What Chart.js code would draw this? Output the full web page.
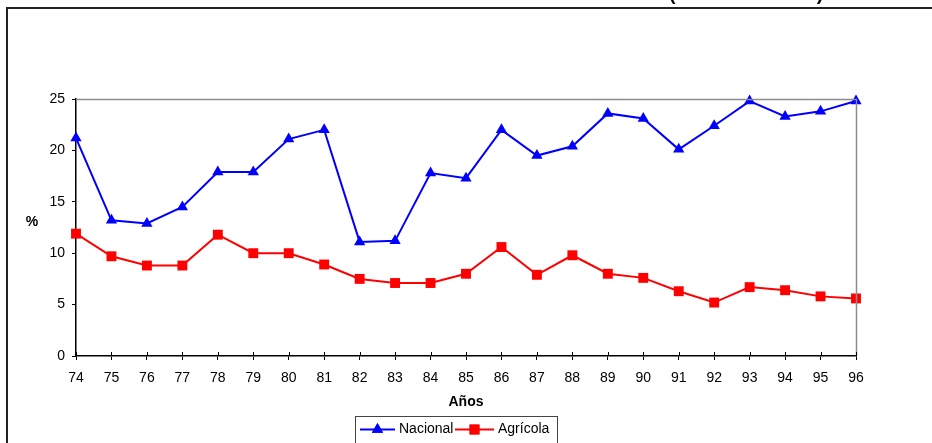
<!DOCTYPE html>
<html>
<head>
<meta charset="utf-8">
<script src="https://cdn.jsdelivr.net/npm/chart.js@4.4.0/dist/chart.umd.min.js"></script>
<style>
  html, body { margin: 0; padding: 0; background: #fff; }
  #wrap { width: 932px; height: 443px; position: relative; }
</style>
</head>
<body>
<div id="wrap"><canvas id="c" width="932" height="443"></canvas></div>
<script>
// Años 1974-1996 (dos dígitos)
const years = ['74','75','76','77','78','79','80','81','82','83','84','85','86','87','88','89','90','91','92','93','94','95','96'];

// Serie nacional (%)
const nacional = [21.2, 13.2, 12.9, 14.5, 17.9, 17.9, 21.1, 22.0, 11.1, 11.2, 17.8, 17.3, 22.0, 19.5, 20.4, 23.6, 23.1, 20.1, 22.4, 24.8, 23.3, 23.8, 24.8];

// Serie agrícola (%)
const agricola = [11.9, 9.7, 8.8, 8.8, 11.8, 10.0, 10.0, 8.9, 7.5, 7.1, 7.1, 8.0, 10.6, 7.9, 9.8, 8.0, 7.6, 6.3, 5.2, 6.7, 6.4, 5.8, 5.6];

// Marcas del eje Y
const yTicks = [0, 5, 10, 15, 20, 25];

const seriesNames = ['Nacional', 'Agrícola'];
const FONT = '"Liberation Sans", Arial, sans-serif';

// Elementos fijos: marco, título, bordes del área, rótulos de ejes y leyenda
const decor = {
  id: 'decor',
  beforeDraw(chart) {
    const ctx = chart.ctx;
    ctx.save();
    ctx.fillStyle = '#fff';
    ctx.fillRect(0, 0, chart.width, chart.height);
    ctx.restore();
  },
  afterDraw(chart) {
    const ctx = chart.ctx;
    const a = chart.chartArea;
    const x = chart.scales.x;
    ctx.save();

    // marco exterior
    ctx.strokeStyle = '#222';
    ctx.lineWidth = 2;
    ctx.beginPath();
    ctx.moveTo(7, 460);
    ctx.lineTo(7, 8);
    ctx.lineTo(940, 8);
    ctx.stroke();

    // título
    ctx.fillStyle = '#000';
    ctx.font = 'bold 19px ' + FONT;
    ctx.textAlign = 'right';
    ctx.textBaseline = 'alphabetic';
    ctx.fillText('(PORCENTAJES)', 823, -0.5);

    // bordes superior y derecho del área
    ctx.strokeStyle = '#8c8c8c';
    ctx.lineWidth = 1.5;
    ctx.beginPath();
    ctx.moveTo(a.left, a.top + 0.5);
    ctx.lineTo(a.right + 0.5, a.top + 0.5);
    ctx.lineTo(a.right + 0.5, a.bottom);
    ctx.stroke();

    // marcas del eje X hacia el interior
    ctx.strokeStyle = '#000';
    ctx.lineWidth = 1;
    ctx.beginPath();
    for (let i = 0; i < years.length; i++) {
      const px = Math.round(x.getPixelForTick(i)) + 0.5;
      ctx.moveTo(px, a.bottom);
      ctx.lineTo(px, a.bottom - 4);
    }
    ctx.stroke();

    // rótulos de ejes
    ctx.fillStyle = '#000';
    ctx.font = 'bold 14px ' + FONT;
    ctx.textAlign = 'center';
    ctx.textBaseline = 'middle';
    ctx.fillText('Años', (a.left + a.right) / 2, 402);
    ctx.fillText('%', 32, 222);

    // leyenda
    ctx.strokeStyle = '#444';
    ctx.lineWidth = 1;
    ctx.strokeRect(355.5, 416.5, 202, 40);
    const ds = chart.data.datasets;
    const items = [
      { x0: 360, x1: 395, tx: 399 },
      { x0: 455, x1: 494, tx: 498 }
    ];
    const ly = 429.5;
    ctx.font = '14px ' + FONT;
    ctx.textAlign = 'left';
    items.forEach((it, i) => {
      const d = ds[i];
      ctx.strokeStyle = d.borderColor;
      ctx.lineWidth = 2;
      ctx.beginPath();
      ctx.moveTo(it.x0, ly);
      ctx.lineTo(it.x1, ly);
      ctx.stroke();
      ctx.fillStyle = d.pointBackgroundColor;
      Chart.helpers.drawPoint(ctx, { pointStyle: d.pointStyle, radius: d.pointRadius, rotation: 0, borderWidth: 0 }, (it.x0 + it.x1) / 2, ly);
      ctx.fill();
      ctx.fillStyle = '#000';
      ctx.fillText(seriesNames[i], it.tx, ly);
    });

    ctx.restore();
  }
};

new Chart(document.getElementById('c'), {
  type: 'line',
  data: {
    labels: years,
    datasets: [
      {
        label: seriesNames[0],
        data: nacional,
        borderColor: '#0000FF',
        backgroundColor: '#0000FF',
        pointBackgroundColor: '#0000FF',
        pointBorderColor: '#0000FF',
        pointStyle: 'triangle',
        pointRadius: 6.5,
        pointBorderWidth: 0,
        borderWidth: 2,
        tension: 0,
        clip: false
      },
      {
        label: seriesNames[1],
        data: agricola,
        borderColor: '#FF0000',
        backgroundColor: '#FF0000',
        pointBackgroundColor: '#FF0000',
        pointBorderColor: '#FF0000',
        pointStyle: 'rect',
        pointRadius: 7,
        pointBorderWidth: 0,
        borderWidth: 2,
        tension: 0,
        clip: false
      }
    ]
  },
  options: {
    responsive: false,
    animation: false,
    events: [],
    layout: { padding: { left: 0, top: 99, right: 76, bottom: 0 } },
    plugins: { legend: { display: false }, tooltip: { enabled: false }, title: { display: false } },
    scales: {
      x: {
        type: 'category',
        offset: false,
        grid: { display: true, drawOnChartArea: false, drawTicks: true, tickLength: 4, color: '#000', lineWidth: 1 },
        border: { display: true, color: '#000', width: 1.5 },
        ticks: { color: '#000', font: { family: FONT, size: 14 }, padding: 10, maxRotation: 0, autoSkip: false },
        afterFit(s) { s.height = 87; }
      },
      y: {
        min: 0,
        max: 25,
        afterBuildTicks(s) { s.ticks = yTicks.map(v => ({ value: v })); },
        grid: { display: true, drawOnChartArea: false, drawTicks: true, tickLength: 4, color: '#000', lineWidth: 1 },
        border: { display: true, color: '#000', width: 1.5 },
        ticks: { color: '#000', font: { family: FONT, size: 14 }, padding: 7 },
        afterFit(s) { s.width = 76; }
      }
    }
  },
  plugins: [decor]
});
</script>
</body>
</html>
